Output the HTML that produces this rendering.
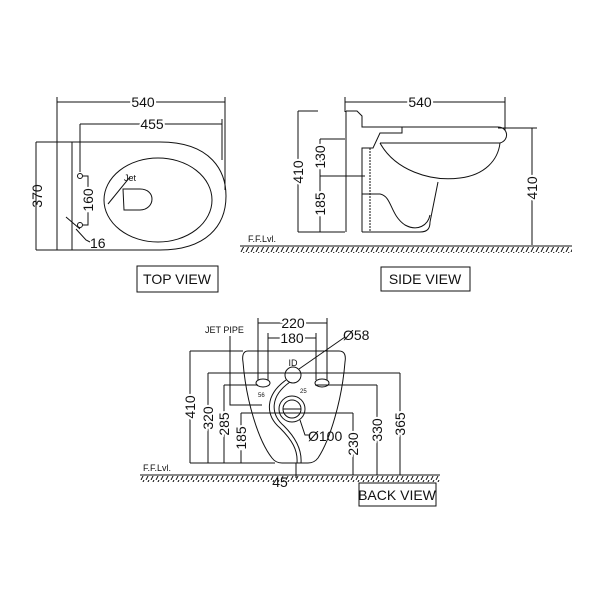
<!DOCTYPE html>
<html><head><style>body{margin:0;background:#fff}svg{display:block}text{font-family:"Liberation Sans",sans-serif;fill:#111}</style></head><body>
<svg width="600" height="600" viewBox="0 0 600 600" xmlns="http://www.w3.org/2000/svg">
<defs><pattern id="h" width="5" height="6" patternUnits="userSpaceOnUse"><line x1="4" y1="0" x2="1" y2="6" stroke="#111" stroke-width="1"/></pattern></defs>
<g fill="none" stroke="#111" stroke-width="1">
<!-- TOP VIEW -->
<line x1="57" y1="102" x2="225" y2="102"/>
<line x1="57" y1="97" x2="57" y2="142"/><line x1="225" y1="97" x2="225" y2="190"/>
<line x1="80" y1="124" x2="222" y2="124"/><line x1="80" y1="124" x2="80" y2="172"/><line x1="222" y1="119" x2="222" y2="160"/>
<line x1="36" y1="142" x2="57" y2="142"/><line x1="36" y1="250" x2="57" y2="250"/><line x1="36" y1="142" x2="36" y2="250"/>
<path d="M57,142 L160,142 C212,142 226,172 226,196 C226,226 206,250 160,250 L57,250 Z"/>
<line x1="72" y1="142" x2="72" y2="250"/>
<ellipse cx="158" cy="200" rx="54" ry="42"/>
<path d="M123,189 L140,189 C148,189 152,194 152,199 C152,205 147,210 140,210 L124,210 Z"/>
<circle cx="80" cy="176" r="2.5"/><circle cx="80" cy="225" r="2.5"/>
<path d="M83,176 L88,176 L88,225 L83,225"/>
<path d="M66,217 L80,229 M76,229 L86,240 L90,242"/>
<path d="M130,177 L108,204"/>
<rect x="137" y="266" width="81" height="26"/>
<!-- SIDE VIEW -->
<line x1="345" y1="102" x2="505" y2="102"/><line x1="345" y1="97" x2="345" y2="112"/><line x1="505" y1="97" x2="505" y2="130"/>
<line x1="298" y1="111" x2="298" y2="232"/><line x1="298" y1="111" x2="318" y2="111"/><line x1="298" y1="232" x2="345" y2="232"/>
<line x1="320" y1="139" x2="320" y2="232"/><line x1="320" y1="139" x2="345" y2="139"/><line x1="320" y1="176" x2="365" y2="176"/>
<line x1="346" y1="111" x2="346" y2="232"/>
<path d="M346,111 L357,111 L362,116 L362,127 L402,127 L402,133 L380,133 L373,148 L362,148 L362,232"/>
<path d="M362,127 L498,127 C508,127 510,140 500,143 L380,143"/>
<path d="M380,143 C395,170 430,182 460,178 C485,175 498,160 500,143"/>
<path d="M362,232 L420,232 C428,232 430,228 430,222 L438,182"/>
<path d="M362,194 L380,194 C392,196 390,215 405,225 C418,232 428,225 430,215"/>
<path d="M370,148 L370,232" stroke-dasharray="2,1"/>
<line x1="532" y1="128" x2="532" y2="245"/><line x1="498" y1="128" x2="537" y2="128"/>
<rect x="381" y="267" width="89" height="24"/>
<!-- floors -->
<line x1="240" y1="246" x2="572" y2="246"/>
<line x1="140" y1="475" x2="440" y2="475"/>
<!-- BACK VIEW -->
<line x1="258" y1="323" x2="327" y2="323"/><line x1="258" y1="318" x2="258" y2="380"/><line x1="327" y1="318" x2="327" y2="380"/>
<line x1="268" y1="338" x2="316" y2="338"/><line x1="268" y1="333" x2="268" y2="380"/><line x1="316" y1="333" x2="316" y2="380"/>
<path d="M248,351 L339,351 C345,351 346,356 345,362 C342,400 330,440 318,458 C315,462 312,463 308,463 L282,463 C278,463 275,462 272,458 C258,440 246,400 243,362 C242,356 243,351 248,351 Z"/>
<line x1="190" y1="351" x2="243" y2="351"/><line x1="190" y1="351" x2="190" y2="463"/>
<line x1="208" y1="373" x2="400" y2="373"/><line x1="208" y1="373" x2="208" y2="463"/>
<line x1="224" y1="385" x2="258" y2="385"/><line x1="224" y1="385" x2="224" y2="463"/>
<line x1="241" y1="413" x2="353" y2="413"/><line x1="241" y1="413" x2="241" y2="463"/>
<line x1="190" y1="463" x2="275" y2="463"/>
<line x1="353" y1="413" x2="353" y2="475"/>
<line x1="315" y1="385" x2="377" y2="385"/><line x1="377" y1="385" x2="377" y2="475"/>
<line x1="400" y1="373" x2="400" y2="475"/>
<circle cx="293" cy="375" r="8"/>
<circle cx="292" cy="409" r="13"/><circle cx="292" cy="409" r="9"/><line x1="283" y1="409" x2="301" y2="409"/>
<ellipse cx="263" cy="383" rx="7" ry="4"/><ellipse cx="322" cy="383" rx="7" ry="4"/>
<path d="M286,380 C265,395 265,415 280,428 C292,440 298,450 297,463 M290,382 C270,396 270,414 284,426 C296,438 302,450 301,463"/>
<line x1="345" y1="337" x2="299" y2="369"/>
<path d="M230,336 L230,405 L262,405"/>
<path d="M300,420 L305,435 L310,435"/>
<line x1="296" y1="463" x2="296" y2="478"/>
<rect x="359" y="483" width="77" height="23"/>
</g>
<rect x="240" y="247" width="332" height="6" fill="url(#h)"/>
<rect x="140" y="476" width="300" height="6" fill="url(#h)"/>
<g font-size="14">
<text x="143" y="107" text-anchor="middle" style="paint-order:stroke" stroke="#fff" stroke-width="4">540</text>
<text x="152" y="129" text-anchor="middle" style="paint-order:stroke" stroke="#fff" stroke-width="4">455</text>
<text transform="translate(42,196) rotate(-90)" text-anchor="middle">370</text>
<text transform="translate(93,200) rotate(-90)" text-anchor="middle" style="paint-order:stroke" stroke="#fff" stroke-width="4">160</text>
<text x="90" y="248">16</text>
<text x="177" y="284" text-anchor="middle">TOP VIEW</text>
<text x="420" y="107" text-anchor="middle" style="paint-order:stroke" stroke="#fff" stroke-width="4">540</text>
<text transform="translate(303,172) rotate(-90)" text-anchor="middle" style="paint-order:stroke" stroke="#fff" stroke-width="4">410</text>
<text transform="translate(325,157) rotate(-90)" text-anchor="middle" style="paint-order:stroke" stroke="#fff" stroke-width="4">130</text>
<text transform="translate(325,204) rotate(-90)" text-anchor="middle" style="paint-order:stroke" stroke="#fff" stroke-width="4">185</text>
<text transform="translate(537,188) rotate(-90)" text-anchor="middle" style="paint-order:stroke" stroke="#fff" stroke-width="4">410</text>
<text x="425" y="284" text-anchor="middle">SIDE VIEW</text>
<text x="293" y="328" text-anchor="middle" style="paint-order:stroke" stroke="#fff" stroke-width="4">220</text>
<text x="292" y="343" text-anchor="middle" style="paint-order:stroke" stroke="#fff" stroke-width="4">180</text>
<text x="343" y="340">Ø58</text>
<text x="308" y="441">Ø100</text>
<text transform="translate(195,407) rotate(-90)" text-anchor="middle" style="paint-order:stroke" stroke="#fff" stroke-width="4">410</text>
<text transform="translate(213,418) rotate(-90)" text-anchor="middle" style="paint-order:stroke" stroke="#fff" stroke-width="4">320</text>
<text transform="translate(229,424) rotate(-90)" text-anchor="middle" style="paint-order:stroke" stroke="#fff" stroke-width="4">285</text>
<text transform="translate(246,438) rotate(-90)" text-anchor="middle" style="paint-order:stroke" stroke="#fff" stroke-width="4">185</text>
<text transform="translate(358,444) rotate(-90)" text-anchor="middle" style="paint-order:stroke" stroke="#fff" stroke-width="4">230</text>
<text transform="translate(382,430) rotate(-90)" text-anchor="middle" style="paint-order:stroke" stroke="#fff" stroke-width="4">330</text>
<text transform="translate(405,424) rotate(-90)" text-anchor="middle" style="paint-order:stroke" stroke="#fff" stroke-width="4">365</text>
<text x="280" y="487" text-anchor="middle">45</text>
<text x="397" y="500" text-anchor="middle">BACK VIEW</text>
</g>
<g font-size="9">
<text x="124" y="181">Jet</text>
<text x="248" y="242">F.F.Lvl.</text>
<text x="143" y="471">F.F.Lvl.</text>
<text x="205" y="333">JET PIPE</text>
<text x="293" y="366" text-anchor="middle">ID</text>
</g>
<g font-size="6"><text x="258" y="397">56</text><text x="300" y="393">25</text></g>
</svg>
</body></html>
